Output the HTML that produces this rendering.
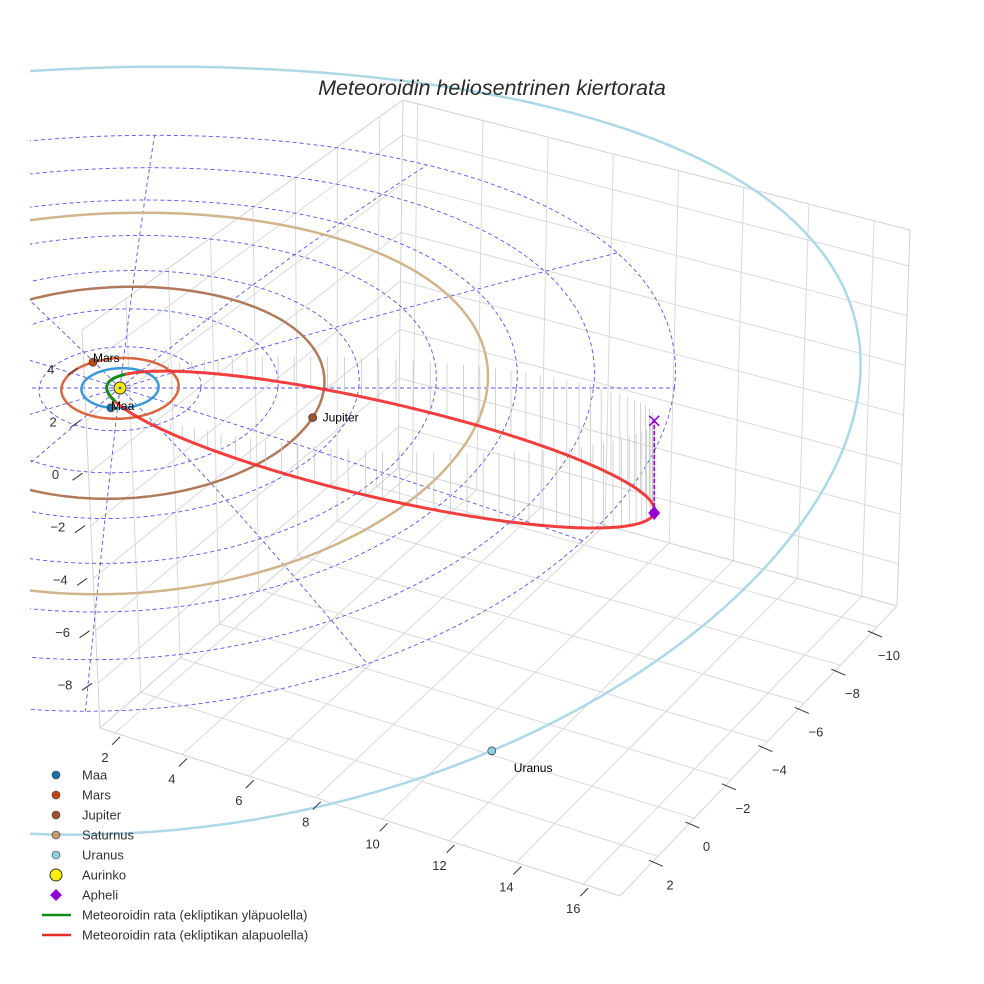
<!DOCTYPE html>
<html><head><meta charset="utf-8"><style>
html,body{margin:0;padding:0;background:#fff;}
svg{display:block;font-family:"Liberation Sans",sans-serif;}
</style></head><body>
<svg id="chart" width="984" height="984" viewBox="0 0 984 984" xmlns="http://www.w3.org/2000/svg">
<defs><clipPath id="plotclip"><rect x="30" y="0" width="954" height="984"/></clipPath></defs>
<g id="box"></g>
<g id="plot" clip-path="url(#plotclip)"></g>
<g id="axes"></g>
<text x="492" y="95" text-anchor="middle" font-size="21.5" font-style="italic" fill="#2a2a2a">Meteoroidin heliosentrinen kiertorata</text>
<g id="legend"></g>
</svg>
<script>
// ---- data ----
const xTicks = [2,4,6,8,10,12,14,16];
const yTicks = [2,0,-2,-4,-6,-8,-10];
const zTicks = [4,2,0,-2,-4,-6,-8];
const planetNames = ["Maa","Mars","Jupiter","Saturnus","Uranus"];
const planetRadii = [1.0,1.52,5.3,9.54,19.2];
const planetAngles = [-100,121,-16,190,-56.3]; // degrees
const planetColors = ["#1f6fa8","#c1440e","#a0522d","#c49a6c","#8ecfdf"];
const orbitColors = ["#3a9ad9","#d9663f","#b07a5a","#d2b48c","#add8e6"];
const labelShown = [true,true,true,false,true];
const gridRings = [2.1,4.1,6.2,8.2,10.3,12.3,14.4];
const gridSpokes = [0,30,60,90,120,150,180,210,240,270,300,330];
const perihelionQ = [0.35];
const aphelionQ = [14.5];
const inclinationDeg = [14];
const apsidesAngleDeg = [-6.6];

// ---- scales ----
const NS="http://www.w3.org/2000/svg";
const xMin=1.55,xMax=17.1,yMax=4.08,yMin=-11.1,zMin=-9.7,zMax=5.45;
const A=[100,728],B=[620,896],FBR=[897,606],BF=[398,468],TL=[82,330],TB=[403,100],TR=[910,230];
function lerp(p,q,t){return [p[0]+(q[0]-p[0])*t,p[1]+(q[1]-p[1])*t];}
function quad(p00,p10,p01,p11,s,t){return lerp(lerp(p00,p10,s),lerp(p01,p11,s),t);}
const fx=x=>(x-xMin)/(xMax-xMin), fy=y=>(yMax-y)/(yMax-yMin), fz=z=>(z-zMin)/(zMax-zMin);
function proj(X,Y,Z){return [120+38.5*X+2.4*Y, 388+0.17*Y*Y-20*Y-26.3*Z];}
function mk(tag,attrs,parent){const e=document.createElementNS(NS,tag);for(const k in attrs)e.setAttribute(k,attrs[k]);parent.appendChild(e);return e;}
function line(p,q,st,w,parent,extra){return mk('line',Object.assign({x1:p[0].toFixed(1),y1:p[1].toFixed(1),x2:q[0].toFixed(1),y2:q[1].toFixed(1),stroke:st,'stroke-width':w},extra||{}),parent);}
const box=document.getElementById('box'),plot=document.getElementById('plot'),axes=document.getElementById('axes'),legend=document.getElementById('legend');
const GC="#d9d9d9";
xTicks.forEach(x=>{const l=line(quad(BF,FBR,TB,TR,fx(x),0),quad(BF,FBR,TB,TR,fx(x),1),GC,1,box);

});
zTicks.forEach(z=>{const l=line(quad(BF,FBR,TB,TR,0,fz(z)),quad(BF,FBR,TB,TR,1,fz(z)),GC,1,box);


const l2=line(quad(A,BF,TL,TB,0,fz(z)),quad(A,BF,TL,TB,1,fz(z)),GC,1,box);

});
yTicks.forEach(y=>{const l=line(quad(A,BF,TL,TB,fy(y),0),quad(A,BF,TL,TB,fy(y),1),GC,1,box);


const l2=line(quad(A,B,BF,FBR,0,fy(y)),quad(A,B,BF,FBR,1,fy(y)),GC,1,box);

});
xTicks.forEach(x=>{const l=line(quad(A,B,BF,FBR,fx(x),0),quad(A,B,BF,FBR,fx(x),1),GC,1,box);

});
[[A,B],[B,FBR],[FBR,TR],[TR,TB],[TB,TL],[TL,A],[TB,BF],[BF,A],[BF,FBR]].forEach(e=>{const l=line(e[0],e[1],"#d2d2d2",1,box);

});
xTicks.forEach(x=>{const p=lerp(A,B,fx(x));line([p[0]-3,p[1]+12],[p[0]+5,p[1]+4],"#333",1,axes);
const t=mk('text',{x:p[0]-10,y:p[1]+29,'font-size':13,fill:'#333','text-anchor':'middle'},axes);t.textContent=String(x).replace('-','\u2212');

});
yTicks.forEach(y=>{const p=lerp(B,FBR,fy(y));line([p[0]-9,p[1]+4],[p[0]+5,p[1]+10],"#333",1,axes);
const t=mk('text',{x:p[0]+12,y:p[1]+33,'font-size':13,fill:'#333','text-anchor':'middle'},axes);t.textContent=String(y).replace('-','\u2212');

});
zTicks.forEach(z=>{const p=lerp(A,TL,fz(z));line([p[0]-16,p[1]+7],[p[0]-6,p[1]],"#333",1,axes);
const t=mk('text',{x:p[0]-33,y:p[1]+6,'font-size':13,fill:'#333','text-anchor':'middle'},axes);t.textContent=String(z).replace('-','\u2212');

});
function ringPath(r){let d="";for(let k=0;k<=180;k++){const a=k/180*2*Math.PI;const p=proj(r*Math.cos(a),r*Math.sin(a),0);d+=(k?"L":"M")+p[0].toFixed(1)+","+p[1].toFixed(1);}return d;}
gridRings.forEach(r=>{const e=mk('path',{d:ringPath(r),fill:'none',stroke:'#5555ee','stroke-width':0.9,'stroke-dasharray':'4,3'},plot);

});
const rmax=gridRings[gridRings.length-1];
gridSpokes.forEach(s=>{const a=s*Math.PI/180;let d="";for(let k=0;k<=20;k++){const p=proj(rmax*k/20*Math.cos(a),rmax*k/20*Math.sin(a),0);d+=(k?"L":"M")+p[0].toFixed(1)+","+p[1].toFixed(1);}
const e=mk('path',{d:d,fill:'none',stroke:'#5555ee','stroke-width':0.9,'stroke-dasharray':'4,3'},plot);

});
planetRadii.forEach((r,i)=>{const e=mk('path',{d:ringPath(r),fill:'none',stroke:orbitColors[i],'stroke-width':2.5},plot);

});
// meteoroid orbit
const q=perihelionQ[0],Q=aphelionQ[0],inc=inclinationDeg[0]*Math.PI/180,phi=apsidesAngleDeg[0]*Math.PI/180;
const a=(q+Q)/2,ecc=(Q-q)/(Q+q),b=a*Math.sqrt(1-ecc*ecc);
const Pv=[-Math.cos(phi)*Math.cos(inc),-Math.sin(phi)*Math.cos(inc),Math.sin(inc)];
const Wv=[-Math.sin(phi),Math.cos(phi),0];
function orb(E){const u=a*(Math.cos(E)-ecc),w=b*Math.sin(E);return [u*Pv[0]+w*Wv[0],u*Pv[1]+w*Wv[1],u*Pv[2]+w*Wv[2]];}
const N=600;const pts=[];for(let k=0;k<=N;k++)pts.push(orb(k/N*2*Math.PI));
for(let k=0;k<N;k+=6){const P=pts[k];if(P[2]<-0.25){const s=proj(P[0],P[1],P[2]),t=proj(P[0],P[1],0);
const l=line(s,t,"#c8c8c8",0.8,plot);

}}
let seg=[],segs=[];
for(let k=0;k<=N;k++){const above=pts[k][2]>=0;if(seg.length&&seg.above!==above){seg.push(pts[k]);segs.push(seg);seg=[pts[k]];seg.above=above;}else{if(!seg.length)seg.above=above;seg.push(pts[k]);}}
segs.push(seg);
segs.forEach(sg=>{const d=sg.map((P,j)=>{const s=proj(P[0],P[1],P[2]);return (j?"L":"M")+s[0].toFixed(1)+","+s[1].toFixed(1);}).join("");
const e=mk('path',{d:d,fill:'none',stroke:sg.above?'#138a13':'#f02a2a','stroke-width':3,'stroke-opacity':sg.above?1:0.9,'stroke-linejoin':'round'},plot);

});
const Ap=orb(Math.PI);const ad=proj(Ap[0],Ap[1],Ap[2]),ax=proj(Ap[0],Ap[1],0);
line(ad,ax,"#9400d3",1.5,plot,{'stroke-dasharray':'4,2'});
const xm=mk('path',{d:`M${ax[0]-5},${ax[1]-5}L${ax[0]+5},${ax[1]+5}M${ax[0]-5},${ax[1]+5}L${ax[0]+5},${ax[1]-5}`,stroke:'#9400d3','stroke-width':1.5},plot);


const dm=mk('path',{d:`M${ad[0]},${ad[1]-7}L${ad[0]+6},${ad[1]}L${ad[0]},${ad[1]+7}L${ad[0]-6},${ad[1]}Z`,fill:'#9400d3'},plot);


const sp=proj(0,0,0);
const sun=mk('circle',{cx:sp[0],cy:sp[1],r:6,fill:'#ffee00',stroke:'#333','stroke-width':1},plot);


mk('circle',{cx:sp[0],cy:sp[1],r:1.5,fill:'#4466dd'},plot);
planetRadii.forEach((r,i)=>{const an=planetAngles[i]*Math.PI/180;const p=proj(r*Math.cos(an),r*Math.sin(an),0);
const c=mk('circle',{cx:p[0],cy:p[1],r:4,fill:planetColors[i],stroke:'#333','stroke-width':0.7},plot);


if(labelShown[i]){const t=mk('text',{x:p[0]+(i==4?22:(i==2?10:0)),y:p[1]+(i==4?21:(i==0?2:(i==1?0:4))),'font-size':12,fill:'#000'},plot);t.textContent=planetNames[i];

}});
const legNames=["Maa","Mars","Jupiter","Saturnus","Uranus","Aurinko","Apheli","Meteoroidin rata (ekliptikan yläpuolella)","Meteoroidin rata (ekliptikan alapuolella)"];
legNames.forEach((n,i)=>{const y=775+i*20;const g=mk('g',{},legend);


if(i<5)mk('circle',{cx:56,cy:y,r:4,fill:planetColors[i],stroke:'#333','stroke-width':0.6},g);
else if(i==5)mk('circle',{cx:56,cy:y,r:6,fill:'#ffee00',stroke:'#333','stroke-width':1},g);
else if(i==6)mk('path',{d:`M56,${y-6}L62,${y}L56,${y+6}L50,${y}Z`,fill:'#9400d3'},g);
else mk('line',{x1:42,y1:y,x2:71,y2:y,stroke:i==7?'#138a13':'#e82a2a','stroke-width':2.5},g);
const t=mk('text',{x:82,y:y+4.5,'font-size':13,fill:'#333'},g);t.textContent=n;});
</script>
</body></html>
